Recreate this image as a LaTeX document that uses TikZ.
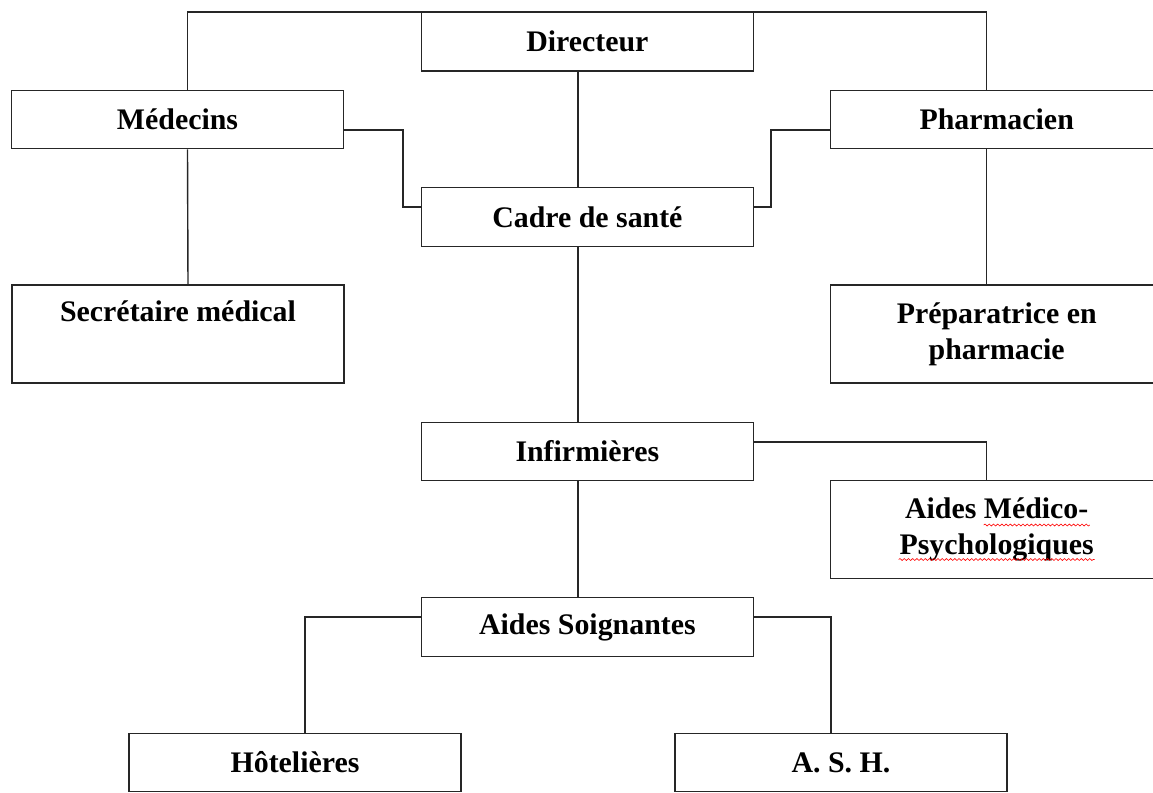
\documentclass[tikz,border=0pt]{standalone}
\usepackage{fontspec}
\setmainfont{Liberation Serif}
\usetikzlibrary{positioning, decorations.pathmorphing}

\begin{document}
\begin{tikzpicture}[x=0.02cm, y=-0.02cm,
            post/.style={draw=black!85, line width=.8pt, fill=white, align=center,
                minimum width=6.64cm, minimum height=1.17cm, inner sep=2pt,
                font=\bfseries\fontsize{17}{20.4}\selectfont},
            tall/.style={post, minimum height=1.96cm},
            link/.style={draw=black!85, line width=.8pt},
            squiggle/.style={draw=red, line width=.35pt, decorate,
                decoration={snake, amplitude=.55pt, segment length=2.4pt}}]
        \useasboundingbox (0,0) rectangle (1153,792);

        \node[post] (dir) at (587.4,41.8) {Directeur};
        \node[post] (med) at (177.5,119.5) {Médecins};
        \node[post] (pha) at (996.7,119.5) {Pharmacien};
        \node[post] (cad) at (587.4,217) {Cadre de santé};
        \node[tall] (sec) at (178,334) {Secrétaire médical\\\strut};
        \node[tall] (pre) at (996.7,334) {Préparatrice en\\pharmacie};
        \node[post] (inf) at (587.4,451.5) {Infirmières};
        \node[tall] (amp) at (996.7,529.5) {Aides Médico-\\Psychologiques};
        \node[post] (as) at (587.4,627) {Aides Soignantes};
        \node[post] (hot) at (295,762.5) {Hôtelières};
        \node[post] (ash) at (841,762.5) {A. S. H.};

        % spelling marks under the two words
        \draw[squiggle] ([shift={(-13,-4.5)}]amp.center) -- ([shift={(93,-4.5)}]amp.center);
        \draw[squiggle] ([shift={(-98,30)}]amp.center) -- ([shift={(98,30)}]amp.center);

        \draw[link] ([xshift=.2cm]med.north) |- (dir.north) -| ([xshift=-.2cm]pha.north);
        \draw[link] ([xshift=-.19cm]dir.south) -- ([xshift=-.19cm]cad.north);
        \draw[link] ([yshift=-.21cm]med.east) -- ++(59,0) |- ([yshift=.2cm]cad.west);
        \draw[link] ([yshift=-.21cm]pha.west) -- ++(-59,0) |- ([yshift=.2cm]cad.east);
        \draw[link] ([xshift=.2cm]med.south) -- ([xshift=.2cm]sec.north);
        \draw[link] ([xshift=-.2cm]pha.south) -- ([xshift=-.2cm]pre.north);
        \draw[link] ([xshift=-.19cm]cad.south) -- ([xshift=-.19cm]inf.north);
        \draw[link] ([yshift=.19cm]inf.east) -| ([xshift=-.2cm]amp.north);
        \draw[link] ([xshift=-.19cm]inf.south) -- ([xshift=-.19cm]as.north);
        \draw[link] ([yshift=.2cm]as.west) -| ([xshift=.2cm]hot.north);
        \draw[link] ([yshift=.2cm]as.east) -| ([xshift=-.2cm]ash.north);
    \end{tikzpicture}
\end{document}
